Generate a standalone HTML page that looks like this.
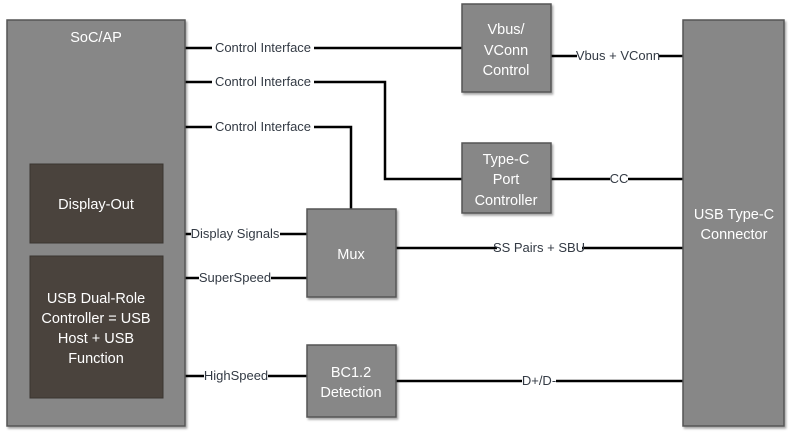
<!DOCTYPE html>
<html><head><style>
body{margin:0;background:#fff;width:790px;height:432px;overflow:hidden}
svg text{font-family:"Liberation Sans",sans-serif}
.b{fill:#878787;stroke:#555;stroke-width:1.5}
.d{fill:#4a433d;stroke:#3a3530;stroke-width:1}
.w{fill:#fff;font-size:14.5px;text-anchor:middle}
.l{fill:#333a44;font-size:13px;text-anchor:middle}
.ln{stroke:#000;stroke-width:2.5;fill:none}
.bg{fill:#fff}
</style></head><body>
<svg width="790" height="432" xmlns="http://www.w3.org/2000/svg">
<defs><filter id="s" x="-5%" y="-5%" width="115%" height="115%"><feDropShadow dx="1.5" dy="2" stdDeviation="1" flood-color="#000" flood-opacity="0.35"/></filter></defs>
<path class="ln" d="M185 48H462"/>
<path class="ln" d="M185 82H385V179H462"/>
<path class="ln" d="M185 127H351V209"/>
<path class="ln" d="M163 234H307"/>
<path class="ln" d="M163 278H307"/>
<path class="ln" d="M163 376H307"/>
<path class="ln" d="M551 56H683"/>
<path class="ln" d="M551 179H683"/>
<path class="ln" d="M396 248H683"/>
<path class="ln" d="M396 381H683"/>
<rect class="b" x="7" y="20" width="178" height="406" filter="url(#s)"/>
<text class="w" x="96" y="42">SoC/AP</text>
<rect class="d" x="30" y="164" width="133" height="79"/>
<text class="w" x="96" y="209">Display-Out</text>
<rect class="d" x="30" y="256" width="133" height="142"/>
<text class="w" x="96" y="303">USB Dual-Role</text>
<text class="w" x="96" y="323">Controller = USB</text>
<text class="w" x="96" y="343">Host + USB</text>
<text class="w" x="96" y="363">Function</text>
<rect class="b" x="462" y="4" width="89" height="88" filter="url(#s)"/>
<text class="w" x="506" y="34">Vbus/</text>
<text class="w" x="506" y="55">VConn</text>
<text class="w" x="506" y="75">Control</text>
<rect class="b" x="462" y="143" width="89" height="70" filter="url(#s)"/>
<text class="w" x="506" y="164">Type-C</text>
<text class="w" x="506" y="184">Port</text>
<text class="w" x="506" y="205">Controller</text>
<rect class="b" x="307" y="209" width="89" height="88" filter="url(#s)"/>
<text class="w" x="351" y="259">Mux</text>
<rect class="b" x="307" y="345" width="89" height="72" filter="url(#s)"/>
<text class="w" x="351" y="377">BC1.2</text>
<text class="w" x="351" y="397">Detection</text>
<rect class="b" x="683" y="20" width="101" height="406" filter="url(#s)"/>
<text class="w" x="734" y="219">USB Type-C</text>
<text class="w" x="734" y="239">Connector</text>
<rect class="bg" x="212" y="41" width="102" height="14"/><text class="l" x="263" y="52">Control Interface</text>
<rect class="bg" x="212" y="75" width="102" height="14"/><text class="l" x="263" y="86">Control Interface</text>
<rect class="bg" x="212" y="120" width="102" height="14"/><text class="l" x="263" y="131">Control Interface</text>
<rect class="bg" x="191" y="227" width="89" height="14"/><text class="l" x="235" y="238">Display Signals</text>
<rect class="bg" x="199" y="271" width="72" height="14"/><text class="l" x="235" y="282">SuperSpeed</text>
<rect class="bg" x="204" y="369" width="64" height="14"/><text class="l" x="236" y="380">HighSpeed</text>
<rect class="bg" x="577" y="49" width="82" height="14"/><text class="l" x="618" y="60">Vbus + VConn</text>
<rect class="bg" x="610" y="172" width="18" height="14"/><text class="l" x="619" y="183">CC</text>
<rect class="bg" x="497" y="241" width="85" height="14"/><text class="l" x="539" y="252">SS Pairs + SBU</text>
<rect class="bg" x="522" y="374" width="34" height="14"/><text class="l" x="539" y="385">D+/D-</text>
</svg>
</body></html>
